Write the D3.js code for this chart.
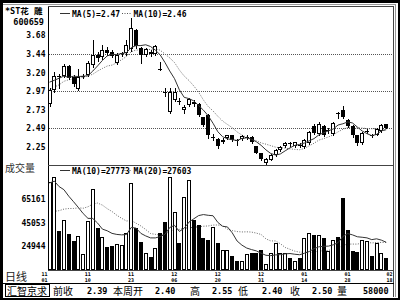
<!DOCTYPE html>
<html>
<head>
<meta charset="utf-8">
<script src="https://cdn.jsdelivr.net/npm/d3@7"></script>
<style>
  body { margin: 0; background: #fff; }
  svg { display: block; }
  .mono { font-family: "DejaVu Sans Mono", monospace; font-weight: bold; }
  .cjk { font-family: "Noto Sans CJK SC", sans-serif; }
</style>
</head>
<body>
<div id="container"></div>
<script>
const width = 400;
const height = 300;

// daily bars, 11/01 .. 02/18
const opens = [2.80, 2.98, 3.16, 3.16, 3.29, 3.15, 2.99, 3.15, 3.17, 3.30,
               3.43, 3.40, 3.49, 3.47, 3.32, 3.44, 3.45, 3.50, 3.75, 3.52,
               3.43, 3.47, 3.44, 3.25, 2.96, 2.70, 2.85, 2.84, 2.72, 2.79,
               2.83, 2.80, 2.63, 2.66, 2.36, 2.35, 2.32, 2.36, 2.40, 2.34,
               2.35, 2.36, 2.38, 2.26, 2.17, 2.05, 2.09, 2.15, 2.21, 2.27,
               2.30, 2.26, 2.28, 2.25, 2.30, 2.52, 2.42, 2.52, 2.46, 2.42,
               2.69, 2.72, 2.60, 2.52, 2.40, 2.30, 2.44, 2.40, 2.40, 2.45,
               2.54];
const highs = [3.00, 3.21, 3.18, 3.31, 3.30, 3.17, 3.25, 3.18, 3.35, 3.62,
               3.46, 3.55, 3.53, 3.49, 3.45, 3.47, 3.62, 3.90, 3.76, 3.53,
               3.52, 3.49, 3.56, 3.34, 3.00, 3.00, 3.00, 2.88, 2.79, 2.88,
               2.85, 2.81, 2.64, 2.67, 2.42, 2.36, 2.36, 2.41, 2.41, 2.35,
               2.40, 2.40, 2.39, 2.27, 2.18, 2.11, 2.16, 2.22, 2.27, 2.32,
               2.32, 2.32, 2.30, 2.35, 2.45, 2.55, 2.57, 2.53, 2.50, 2.57,
               2.70, 2.77, 2.61, 2.53, 2.41, 2.44, 2.48, 2.42, 2.49, 2.54,
               2.55];
const lows = [2.78, 2.96, 3.00, 3.15, 3.12, 3.03, 2.98, 3.13, 3.16, 3.28,
              3.35, 3.38, 3.43, 3.40, 3.31, 3.42, 3.43, 3.48, 3.52, 3.32,
              3.41, 3.42, 3.43, 3.23, 2.90, 2.69, 2.84, 2.80, 2.68, 2.78,
              2.78, 2.65, 2.52, 2.37, 2.34, 2.24, 2.30, 2.35, 2.33, 2.28,
              2.34, 2.35, 2.30, 2.17, 2.09, 2.03, 2.08, 2.14, 2.20, 2.25,
              2.27, 2.25, 2.25, 2.24, 2.29, 2.42, 2.41, 2.39, 2.43, 2.41,
              2.62, 2.62, 2.51, 2.38, 2.28, 2.29, 2.43, 2.38, 2.40, 2.44,
              2.49];
const closes = [2.98, 3.16, 3.14, 3.29, 3.13, 3.06, 3.14, 3.16, 3.32, 3.43,
                3.39, 3.49, 3.45, 3.41, 3.43, 3.45, 3.55, 3.77, 3.54, 3.43,
                3.50, 3.44, 3.54, 3.24, 2.94, 2.95, 2.95, 2.83, 2.76, 2.86,
                2.80, 2.66, 2.53, 2.40, 2.38, 2.26, 2.34, 2.40, 2.34, 2.33,
                2.39, 2.38, 2.31, 2.18, 2.10, 2.10, 2.15, 2.21, 2.25, 2.30,
                2.29, 2.31, 2.27, 2.34, 2.44, 2.43, 2.55, 2.40, 2.47, 2.56,
                2.68, 2.63, 2.52, 2.40, 2.30, 2.43, 2.46, 2.39, 2.48, 2.53,
                2.50];
const volumes = [80400, 84200, 37900, 47200, 35100, 29000, 33350, 17500, 46600, 74100,
                 40500, 32200, 23500, 24700, 26100, 25300, 36200, 79000, 40500, 28400,
                 18900, 15150, 23200, 36200, 45200, 84700, 54400, 27000, 67400, 81900,
                 47200, 43000, 31900, 29900, 41400, 27000, 21200, 21200, 16300, 11700,
                 11700, 17750, 18600, 18600, 21200, 9100, 18600, 27300, 18600, 18600,
                 14300, 11700, 14300, 31600, 35950, 34200, 34200, 31600, 20300, 29900,
                 32700, 66000, 38550, 20300, 19700, 29900, 29000, 16300, 27300, 18600,
                 14300];

// sessions before the first visible bar (estimated), used only for the moving averages
const priorCloses = [2.78, 2.86, 2.84, 2.93, 2.99, 3.04, 3.01, 3.15, 3.22];
const priorVolumes = [21000, 26500, 19800, 25300, 28100, 22400, 24700, 20900, 27600, 22700,
                      68000, 85000, 74000, 91000, 77000, 83000, 70000, 88000, 75000];

const priceTicks = [3.68, 3.44, 3.20, 2.97, 2.73, 2.49, 2.25];
const priceGrid = [3.44, 2.97, 2.49];
const volumeTicks = [65161, 45053, 24944];
const dateIndex = [0, 9, 18, 27, 36, 45, 54, 63, 70];
const dateLabels = [["11", "01"], ["11", "10"], ["11", "23"], ["12", "06"], ["12", "20"],
                    ["12", "31"], ["01", "14"], ["01", "28"], ["02", "18"]];
const priceLegend = ["MA(5)=2.47", "MA(10)=2.46"];
const volumeLegend = ["MA(10)=27773", "MA(20)=27603"];
const infoNames = ["前收", "本周开", "高", "低", "收", "量"];
const infoValues = ["2.39", "2.40", "2.55", "2.40", "2.50", "58000"];

// layout
const plotLeft = 48, plotRight = 393.5, plotTop = 6.5, plotSep = 165, plotBottom = 270;
const infoNameX = [53, 113, 190, 238, 290, 337];
const infoValueX = [87, 155, 212, 262, 312, 363];

const svg = d3.select("#container")
              .append("svg")
              .attr("width", width)
              .attr("height", height);

svg.append("rect").attr("width", width).attr("height", height).attr("fill", "#fff");

const n = closes.length;
const x = d3.scaleLinear().domain([0, n - 1]).range([49.5, 386.2]);
const yPrice = d3.scaleLinear().domain([2.49, 3.44]).range([128.3, 54]);
const yVol = d3.scaleLinear().domain([24944, 65161]).range([245.8, 199.2]);

const movingAvg = (prior, values, k) => {
  const all = prior.concat(values);
  const p = prior.length;
  return values.map((d, i) => d3.mean(all.slice(Math.max(0, i + p - k + 1), i + p + 1)));
};

const bars = d3.range(n).map(i => ({
  i: i, o: opens[i], h: highs[i], l: lows[i], c: closes[i], v: volumes[i],
  up: closes[i] >= opens[i]
}));

// frame
const frame = svg.append("g").attr("shape-rendering", "crispEdges").attr("fill", "none");
frame.append("rect").attr("x", 1.25).attr("y", 1.25).attr("width", 397.5).attr("height", 297.5)
     .attr("stroke", "#000").attr("stroke-width", 2.5);
frame.append("line").attr("x1", 3).attr("x2", 396).attr("y1", 4.5).attr("y2", 4.5).attr("stroke", "#999");
frame.append("line").attr("x1", 395.5).attr("x2", 395.5).attr("y1", 4.5).attr("y2", 297).attr("stroke", "#999");
frame.append("line").attr("x1", plotLeft).attr("x2", plotRight).attr("y1", plotTop).attr("y2", plotTop).attr("stroke", "#444");
frame.append("line").attr("x1", plotRight).attr("x2", plotRight).attr("y1", plotTop).attr("y2", 297).attr("stroke", "#444");
frame.append("line").attr("x1", plotLeft).attr("x2", plotLeft).attr("y1", plotTop).attr("y2", plotBottom).attr("stroke", "#000");
frame.append("line").attr("x1", plotLeft).attr("x2", plotRight).attr("y1", plotSep).attr("y2", plotSep).attr("stroke", "#444");
frame.append("line").attr("x1", plotLeft).attr("x2", plotRight).attr("y1", plotBottom).attr("y2", plotBottom).attr("stroke", "#444");
frame.append("line").attr("x1", 3).attr("x2", plotRight).attr("y1", 283.5).attr("y2", 283.5).attr("stroke", "#000");

// price grid
svg.append("g")
   .selectAll("line")
   .data(priceGrid)
   .enter()
   .append("line")
   .attr("x1", plotLeft + 1).attr("x2", plotRight)
   .attr("y1", d => Math.round(yPrice(d)) + 0.5)
   .attr("y2", d => Math.round(yPrice(d)) + 0.5)
   .attr("stroke", "#555")
   .attr("stroke-dasharray", "1,1");

// axes (labels only)
const priceAxis = svg.append("g")
                     .attr("transform", "translate(45.5,0)")
                     .call(d3.axisLeft(yPrice).tickValues(priceTicks).tickSize(0).tickPadding(0)
                             .tickFormat(d3.format(".2f")));
const volAxis = svg.append("g")
                   .attr("transform", "translate(45.5,0)")
                   .call(d3.axisLeft(yVol).tickValues(volumeTicks).tickSize(0).tickPadding(0)
                           .tickFormat(d3.format("d")));
[priceAxis, volAxis].forEach(a => {
  a.attr("font-family", null).attr("font-size", null);
  a.select(".domain").remove();
  a.selectAll("text").attr("class", "mono").attr("font-size", 8).attr("fill", "#000");
});

// moving averages
const ma5 = movingAvg(priorCloses, closes, 5);
const ma10 = movingAvg(priorCloses, closes, 10);
const vma10 = movingAvg(priorVolumes, volumes, 10);
const vma20 = movingAvg(priorVolumes, volumes, 20);
const priceLine = d3.line().x((d, i) => x(i)).y(d => yPrice(d));
const volLine = d3.line().x((d, i) => x(i)).y(d => yVol(d));

svg.append("path").attr("d", priceLine(ma10)).attr("fill", "none")
   .attr("stroke", "#666").attr("stroke-dasharray", "1,1.5");
svg.append("path").attr("d", volLine(vma20)).attr("fill", "none")
   .attr("stroke", "#666").attr("stroke-dasharray", "1,1.5");

// candles
const candle = svg.append("g")
                  .attr("shape-rendering", "crispEdges")
                  .selectAll("g")
                  .data(bars)
                  .enter()
                  .append("g");
candle.append("line")
      .attr("x1", d => Math.round(x(d.i)) + 0.5)
      .attr("x2", d => Math.round(x(d.i)) + 0.5)
      .attr("y1", d => Math.round(yPrice(d.h)))
      .attr("y2", d => Math.round(yPrice(d.l)) + 1)
      .attr("stroke", "#000");
candle.append("rect")
      .each(function(d) {
        const cx = Math.round(x(d.i));
        const t = Math.round(yPrice(Math.max(d.o, d.c)));
        const b = Math.max(t + 1, Math.round(yPrice(Math.min(d.o, d.c))));
        const el = d3.select(this);
        if (d.up && b - t > 2) {
          el.attr("x", cx - 1.5).attr("y", t + 0.5).attr("width", 3).attr("height", b - t - 1)
            .attr("fill", "#fff").attr("stroke", "#000");
        } else {
          el.attr("x", cx - 2).attr("y", t).attr("width", 4).attr("height", b - t).attr("fill", "#000");
        }
      });

// volume bars
svg.append("g")
   .attr("shape-rendering", "crispEdges")
   .selectAll("rect")
   .data(bars)
   .enter()
   .append("rect")
   .each(function(d) {
     const cx = Math.round(x(d.i));
     const t = Math.round(yVol(d.v));
     const el = d3.select(this);
     if (d.up) {
       el.attr("x", cx - 1.5).attr("y", t + 0.5).attr("width", 3).attr("height", plotBottom - t - 1)
         .attr("fill", "#fff").attr("stroke", "#000");
     } else {
       el.attr("x", cx - 2).attr("y", t).attr("width", 4).attr("height", plotBottom - t).attr("fill", "#000");
     }
   });

svg.append("path").attr("d", priceLine(ma5)).attr("fill", "none").attr("stroke", "#333");
svg.append("path").attr("d", volLine(vma10)).attr("fill", "none").attr("stroke", "#333");

// legends
const legend = (y, labels) => {
  svg.append("line").attr("x1", 60).attr("x2", 70).attr("y1", y).attr("y2", y)
     .attr("stroke", "#333").attr("shape-rendering", "crispEdges");
  svg.append("line").attr("x1", 122).attr("x2", 132).attr("y1", y).attr("y2", y)
     .attr("stroke", "#555").attr("stroke-dasharray", "1,1.5");
  svg.append("text").attr("class", "mono").attr("font-size", 8).attr("x", 72).attr("y", y + 3)
     .text(labels[0]);
  svg.append("text").attr("class", "mono").attr("font-size", 8).attr("x", 133.5).attr("y", y + 3)
     .text(labels[1]);
};
legend(13.5, priceLegend);
legend(170.5, volumeLegend);

// title and side labels
svg.append("text").attr("x", 5).attr("y", 14).attr("font-size", 8.5)
   .attr("font-family", "'DejaVu Sans Mono', 'Noto Sans CJK SC'").attr("font-weight", "bold")
   .text("*ST花 雕");
svg.append("text").attr("class", "mono").attr("font-size", 8.5).attr("x", 44).attr("y", 24.5)
   .attr("text-anchor", "end").text("600659");
svg.append("text").attr("class", "cjk").attr("font-size", 10).attr("x", 5).attr("y", 172)
   .attr("fill", "#333").text("成交量");
svg.append("text").attr("class", "cjk").attr("font-size", 11).attr("x", 5).attr("y", 280.5)
   .attr("fill", "#222").text("日线");

// date labels
const dates = svg.append("g")
                 .selectAll("text")
                 .data(dateIndex)
                 .enter()
                 .append("text")
                 .attr("class", "mono")
                 .attr("font-size", 5)
                 .attr("text-anchor", "end")
                 .attr("transform", (d, i) => "translate(" + (i === dateIndex.length - 1 ? plotRight - 1 : x(d) - 2) + ",0)");
dates.selectAll("tspan")
     .data((d, i) => dateLabels[i])
     .enter()
     .append("tspan")
     .attr("x", 0)
     .attr("y", (d, j) => 275.5 + j * 6)
     .text(d => d);

// info bar
svg.append("rect").attr("x", 5.5).attr("y", 284.5).attr("width", 44).attr("height", 12)
   .attr("fill", "none").attr("stroke", "#000").attr("shape-rendering", "crispEdges");
svg.append("text").attr("class", "cjk").attr("font-size", 10).attr("x", 7).attr("y", 294.5)
   .text("汇智京求");
svg.append("g")
   .selectAll("text")
   .data(infoNames)
   .enter()
   .append("text")
   .attr("class", "cjk")
   .attr("font-size", 10)
   .attr("x", (d, i) => infoNameX[i])
   .attr("y", 294.5)
   .text(d => d);
svg.append("g")
   .selectAll("text")
   .data(infoValues)
   .enter()
   .append("text")
   .attr("class", "mono")
   .attr("font-size", 8.5)
   .attr("x", (d, i) => infoValueX[i])
   .attr("y", 294)
   .text(d => d);
</script>
</body>
</html>
